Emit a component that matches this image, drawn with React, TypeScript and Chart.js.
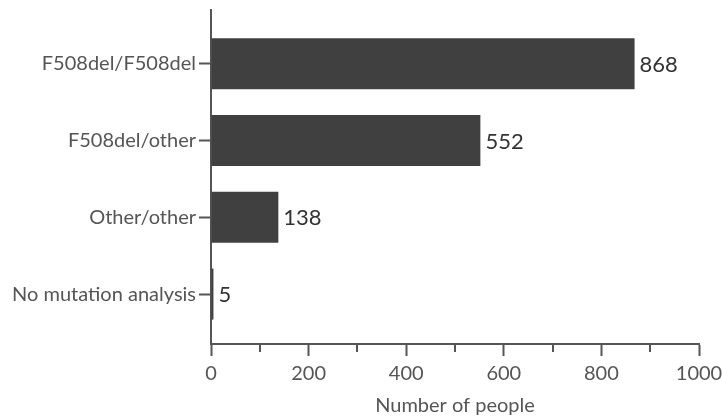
import React, { useEffect, useRef } from "react";
import { Chart, registerables } from "chart.js";

Chart.register(...registerables);

const categories = ["F508del/F508del", "F508del/other", "Other/other", "No mutation analysis"];
const values = [868, 552, 138, 5];
const minorTicks = [100, 300, 500, 700, 900];
const xTitle = "Number of people";

const AXIS = "#555555";
const BAR = "#404040";
const FONT = "Lato";

export default function App() {
  const ref = useRef<HTMLCanvasElement | null>(null);
  useEffect(() => {
    if (!ref.current) return;
    const labelPlugin = {
      id: "labelsAndMinor",
      afterDatasetsDraw(chart: any) {
        const ctx = chart.ctx;
        const meta = chart.getDatasetMeta(0);
        ctx.save();
        ctx.fillStyle = "#333333";
        ctx.font = `22px ${FONT}`;
        ctx.textAlign = "left";
        ctx.textBaseline = "middle";
        meta.data.forEach((bar: any, i: number) => {
          ctx.fillText(String(values[i]), bar.x + 5, bar.y + 1);
        });
        ctx.restore();
      },
      afterDraw(chart: any) {
        const ctx = chart.ctx;
        const xs = chart.scales.x;
        ctx.save();
        ctx.strokeStyle = AXIS;
        ctx.lineWidth = 2;
        minorTicks.forEach((v) => {
          const px = Math.round(xs.getPixelForValue(v));
          ctx.beginPath();
          ctx.moveTo(px, xs.top);
          ctx.lineTo(px, xs.top + 8);
          ctx.stroke();
        });
        ctx.restore();
      },
    };
    const chart = new Chart(ref.current, {
      type: "bar",
      data: {
        datasets: [
          {
            data: values.map((v, i) => ({ x: v, y: i })),
            backgroundColor: BAR,
            borderWidth: 0,
            categoryPercentage: 1,
            barPercentage: 0.665,
          },
        ],
      },
      options: {
        indexAxis: "y",
        animation: false,
        responsive: false,
        layout: { padding: { top: 10, right: 23, left: 0, bottom: 0 } },
        plugins: { legend: { display: false }, tooltip: { enabled: false } },
        scales: {
          x: {
            type: "linear",
            min: 0,
            max: 1000,
            offset: false,
            afterFit: (s: any) => {
              s.height = 74;
              s.paddingLeft = 0;
              s.paddingRight = 0;
            },
            border: { display: true, color: AXIS, width: 2 },
            grid: { offset: false, drawOnChartArea: false, drawTicks: true, tickLength: 12, tickColor: AXIS, tickWidth: 2 },
            ticks: {
              stepSize: 200,
              color: "#555555",
              font: { family: FONT, size: 20 },
              padding: 6,
              maxRotation: 0,
              callback: (v: any) => String(v),
            },
            title: { display: true, text: xTitle, color: "#555555", font: { family: FONT, size: 20 }, padding: { top: 0, bottom: 0 } },
          },
          y: {
            type: "linear",
            min: -0.7,
            max: 3.65,
            reverse: true,
            offset: false,
            afterFit: (s: any) => {
              s.width = 211;
              s.paddingTop = 0;
              s.paddingBottom = 0;
            },
            border: { display: true, color: AXIS, width: 2 },
            grid: { offset: false, drawOnChartArea: false, drawTicks: true, tickLength: 12, tickColor: AXIS, tickWidth: 2 },
            ticks: {
              stepSize: 1,
              includeBounds: false,
              autoSkip: false,
              color: "#555555",
              font: { family: FONT, size: 20 },
              padding: 3,
              callback: (v: any) => (categories[v as number] ?? ""),
            },
          },
        },
      },
      plugins: [labelPlugin],
    });
    return () => chart.destroy();
  }, []);
  return (
    <div style={{ position: "fixed", left: 0, top: 0, width: 722, height: 418, background: "#fff" }}>
      <canvas ref={ref} width={722} height={418} style={{ width: 722, height: 418 }} />
    </div>
  );
}
